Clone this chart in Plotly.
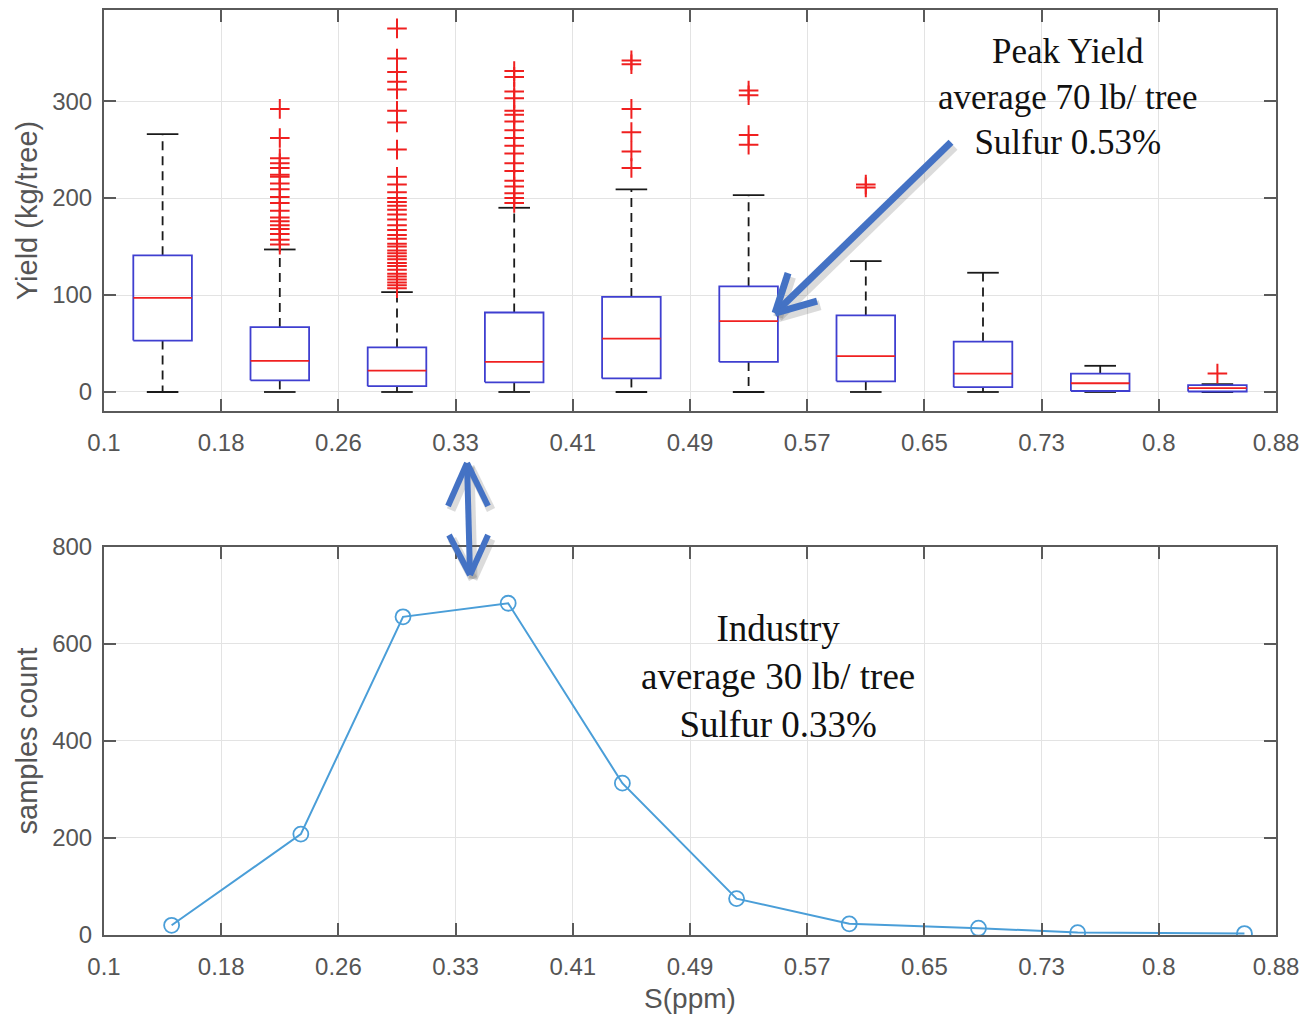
import numpy as np
import plotly.graph_objects as go

# ---------------- data ----------------
tick_labels = ["0.1", "0.18", "0.26", "0.33", "0.41", "0.49", "0.57", "0.65", "0.73", "0.8", "0.88"]
x_min, x_max = 0.1, 0.88

# top panel: yield box plots per sulfur bin
box_pos = [0.139, 0.217, 0.295, 0.373, 0.451, 0.529, 0.607, 0.685, 0.763, 0.841]
q1 = [53, 12, 6, 10, 14, 31, 11, 5, 1, 0.5]
median = [97, 32, 22, 31, 55, 73, 37, 19, 9, 4]
q3 = [141, 67, 46, 82, 98, 109, 79, 52, 19, 7]
whisk_lo = [0, 0, 0, 0, 0, 0, 0, 0, 0, 0]
whisk_hi = [266, 147, 103, 190, 209, 203, 135, 123, 27, 8]

out_1 = []
out_2 = [292, 262, 241, 236, 231, 224, 222, 215, 209, 201, 195, 187, 180, 176, 172, 168, 163, 157, 152]
out_3 = [375, 344, 330, 320, 312, 290, 278, 250, 222, 214, 206, 200, 196, 192, 188, 183, 178, 172,
         167, 162, 158, 153, 150, 146, 143, 140, 137, 133, 130, 126, 122, 119, 116, 113, 110, 107]
out_4 = [331, 325, 310, 303, 290, 286, 279, 270, 262, 254, 246, 236, 228, 218, 212, 205, 200, 195]
out_5 = [342, 338, 292, 268, 248, 231]
out_6 = [311, 306, 265, 255]
out_7 = [214, 211]
out_8 = []
out_9 = []
out_10 = [19]
outliers = [out_1, out_2, out_3, out_4, out_5, out_6, out_7, out_8, out_9, out_10]

# bottom panel: sample counts per bin
s_mean = [0.145, 0.231, 0.299, 0.369, 0.445, 0.521, 0.596, 0.682, 0.748, 0.859]
counts = [20, 208, 656, 684, 313, 75, 23, 14, 5, 3]

# ---------------- styling constants ----------------
BOX_W = 0.039
CAP_W = 0.021
AX_COLOR = "#5a5a5a"
GRID = "#e3e3e3"
TXT = "#555555"
SANS = "Liberation Sans, Arial, sans-serif"
SERIF = "Liberation Serif, Times New Roman, serif"
ARROW = "#4472C4"
SHADOW = "rgba(90,90,90,0.22)"

fig = go.Figure()

# build box geometry from the statistics
bx, by, mx, my, wx, wy, cx, cy = [], [], [], [], [], [], [], []
for p, a, m, b, lo, hi in zip(box_pos, q1, median, q3, whisk_lo, whisk_hi):
    l, r = p - BOX_W / 2, p + BOX_W / 2
    bx += [l, r, r, l, l, None]
    by += [a, a, b, b, a, None]
    mx += [l, r, None]
    my += [m, m, None]
    wx += [p, p, None, p, p, None]
    wy += [b, hi, None, a, lo, None]
    cl, cr = p - CAP_W / 2, p + CAP_W / 2
    cx += [cl, cr, None, cl, cr, None]
    cy += [hi, hi, None, lo, lo, None]

fig.add_trace(go.Scatter(x=wx, y=wy, mode="lines", line=dict(color="#1a1a1a", width=1.8, dash="9px,6px"),
                         xaxis="x", yaxis="y", hoverinfo="skip"))
fig.add_trace(go.Scatter(x=cx, y=cy, mode="lines", line=dict(color="#1a1a1a", width=1.8),
                         xaxis="x", yaxis="y", hoverinfo="skip"))
fig.add_trace(go.Scatter(x=bx, y=by, mode="lines", line=dict(color="#3f3fd0", width=1.8),
                         xaxis="x", yaxis="y", hoverinfo="skip"))
fig.add_trace(go.Scatter(x=mx, y=my, mode="lines", line=dict(color="#f02020", width=1.8),
                         xaxis="x", yaxis="y", hoverinfo="skip"))

ox, oy = [], []
for p, outs in zip(box_pos, outliers):
    ox += [p] * len(outs)
    oy += outs
fig.add_trace(go.Scatter(x=ox, y=oy, mode="markers",
                         marker=dict(symbol="cross-thin", size=14, line=dict(color="#f02020", width=2)),
                         xaxis="x", yaxis="y", hoverinfo="skip"))

# bottom line
fig.add_trace(go.Scatter(x=s_mean, y=counts, mode="lines+markers",
                         line=dict(color="#4a9ed8", width=2),
                         marker=dict(symbol="circle-open", size=15, line=dict(color="#4a9ed8", width=1.8)),
                         xaxis="x2", yaxis="y2", hoverinfo="skip"))

tickvals = list(np.linspace(x_min, x_max, len(tick_labels)))

common_x = dict(range=[x_min, x_max], tickvals=tickvals, ticktext=tick_labels, ticks="inside", ticklen=12,
                tickwidth=2, tickcolor=AX_COLOR, showline=True, linecolor=AX_COLOR, linewidth=2, mirror="ticks",
                showgrid=True, gridcolor=GRID, gridwidth=1, zeroline=False, automargin=False,
                ticklabelstandoff=9, tickfont=dict(family=SANS, size=24, color=TXT))
common_y = dict(ticks="inside", ticklen=12, tickwidth=2, tickcolor=AX_COLOR, showline=True,
                linecolor=AX_COLOR, linewidth=2, mirror="ticks", showgrid=True, gridcolor=GRID,
                gridwidth=1, zeroline=False, automargin=False, ticklabelstandoff=5,
                tickfont=dict(family=SANS, size=24, color=TXT))

fig.update_layout(
    width=1313, height=1017,
    margin=dict(l=104, r=37, t=10, b=82, autoexpand=False),
    paper_bgcolor="white", plot_bgcolor="white",
    showlegend=False,
    xaxis=dict(domain=[0, 1], anchor="y", **common_x),
    yaxis=dict(domain=[0.5665, 1.0], anchor="x", range=[-19.6, 394], tickvals=[0, 100, 200, 300],
               title=dict(text="Yield (kg/tree)", font=dict(family=SANS, size=29, color=TXT), standoff=6),
               **common_y),
    xaxis2=dict(domain=[0, 1], anchor="y2",
                title=dict(text="S(ppm)", font=dict(family=SANS, size=28, color=TXT), standoff=10),
                **common_x),
    yaxis2=dict(domain=[0, 0.4195], anchor="x2", range=[0, 800], tickvals=[0, 200, 400, 600, 800],
                title=dict(text="samples count", font=dict(family=SANS, size=29, color=TXT), standoff=6),
                **common_y),
)

# text annotations
fig.add_annotation(x=0.741, y=304, xref="x", yref="y", showarrow=False,
                   text="Peak Yield<br>average 70 lb/ tree<br>Sulfur 0.53%",
                   font=dict(family=SERIF, size=35, color="#111111"), align="center")
fig.add_annotation(x=0.5486, y=533, xref="x2", yref="y2", showarrow=False,
                   text="Industry<br>average 30 lb/ tree<br>Sulfur 0.33%",
                   font=dict(family=SERIF, size=37, color="#111111"), align="center")

# pixel -> data conversions used only to offset the soft arrow shadows
PX_X = (x_max - x_min) / 1172.0      # x data units per pixel
PX_Y1 = 413.6 / 401.0                # top-panel y units per pixel
PX_P = 1.0 / 925.0                   # paper units per pixel
SDX, SDY = 3, 4                      # shadow offset in pixels (right, down)


def arrow(x0, y0, x1, y1, arms, xref, yref, dyunit, width):
    """shaft from (x0,y0) to (x1,y1); chevron arms (pixel offsets) at each anchor in arms"""
    for col, w, ox_, oy_ in [(SHADOW, width + 3, SDX * PX_X, -SDY * dyunit), (ARROW, width, 0, 0)]:
        fig.add_shape(type="line", xref=xref, yref=yref, x0=x0 + ox_, y0=y0 + oy_, x1=x1 + ox_, y1=y1 + oy_,
                      line=dict(color=col, width=w), layer="above")
        for ax_, ay_, dx, dy in arms:
            fig.add_shape(type="line", xref=xref, yref=yref, xsizemode="pixel", ysizemode="pixel",
                          xanchor=ax_ + ox_, yanchor=ay_ + oy_, x0=0, y0=0, x1=dx, y1=dy,
                          line=dict(color=col, width=w), layer="above")


# ---- Peak Yield arrow ----
head_x, head_y = 0.5466, 81.4
tail_x, tail_y = 0.6637, 257.7
arrow(tail_x, tail_y, head_x, head_y,
      [(head_x, head_y, 42, 12), (head_x, head_y, 13, 40)], "x", "y", PX_Y1, 7)

# ---- double arrow between panels ----
top_x, top_y = 0.3416, 0.5103
bot_x, bot_y = 0.3436, 0.3892
arrow(top_x, top_y, bot_x, bot_y,
      [(top_x, top_y, -19, -43), (top_x, top_y, 21, -43),
       (bot_x, bot_y, -21, 40), (bot_x, bot_y, 18, 40)], "x2", "paper", PX_P, 6)

fig.write_html("out.html", config={"displayModeBar": False},
               post_script="document.body.style.margin='0';document.body.style.overflow='hidden';")
